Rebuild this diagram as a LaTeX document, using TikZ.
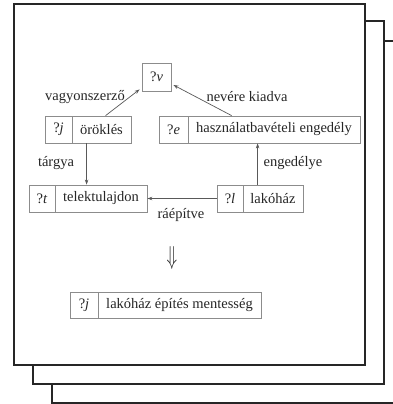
\documentclass[tikz,border=0pt]{standalone}
\usepackage{fontspec}
\setmainfont{Liberation Serif}
\usetikzlibrary{calc,arrows.meta}
\begin{document}
\begin{tikzpicture}[x=1pt,y=-1pt,
  frame/.style={line width=2.4pt,draw=black!85},
  cell/.style={draw=black!45,line width=0.8pt,inner sep=0pt,minimum height=27pt,font=\fontsize{14.5}{16}\selectfont,text=black!85},
  lbl/.style={inner sep=0pt,font=\fontsize{14.5}{16}\selectfont,text=black!85},
  conn/.style={draw=black!65,line width=0.7pt,-{Stealth[length=5pt,width=3.5pt]}}]
\useasboundingbox (0,0) rectangle (393,404);
% stacked frames
\draw[frame] (52,384) -- (52,403) -- (396,403);
\draw[frame] (384,41) -- (396,41);
\draw[frame] (33,365) -- (33,384) -- (384,384) -- (384,21) -- (365,21);
\draw[frame,fill=white] (14,4) rectangle (365,365);
% nodes
\node[cell,minimum width=29pt,minimum height=28pt] (v) at (156.5,77) {?\textit{v}};
\node[cell,minimum width=27pt] (jL) at (58.5,129.5) {?\textit{j}};
\node[cell,minimum width=59pt] (jR) at (101.5,129.5) {öröklés};
\node[cell,minimum width=29pt] (eL) at (173.5,129.5) {?\textit{e}};
\node[cell,minimum width=172pt] (eR) at (274,129.5) {használatbavételi engedély};
\node[cell,minimum width=26pt] (tL) at (42,198.5) {?\textit{t}};
\node[cell,minimum width=92pt] (tR) at (101,198.5) {telektulajdon};
\node[cell,minimum width=26pt] (lL) at (230,198.5) {?\textit{l}};
\node[cell,minimum width=60pt] (lR) at (273,198.5) {lakóház};
\node[cell,minimum width=28pt,minimum height=26pt] (kL) at (84,305) {?\textit{j}};
\node[cell,minimum width=163pt,minimum height=26pt] (kR) at (179.5,305) {lakóház építés mentesség};
% labels
\node[lbl] (l1) at (85,97) {vagyonszerző};
\node[lbl] (l2) at (247,97) {nevére kiadva};
\node[lbl] (l3) at (56,163) {tárgya};
\node[lbl] (l4) at (293,163) {engedélye};
\node[lbl] (l5) at (181,215) {ráépítve};
\node[inner sep=0pt,text=black!85] (dn) at (172,258) {\scalebox{1}[1.5]{\fontsize{17}{17}\selectfont$\Downarrow$}};
% connector end points
\coordinate (ja) at ($(jR.south west)+(15,0)$);
\coordinate (la) at ($(lR.north west)+(15,0)$);
% connectors
\draw[conn] ($(jR.north west)+(34,0)$) -- ($(v.south west)+(-2,-2)$);
\draw[conn] ($(eR.north west)+(44,0)$) -- ($(v.east)+(2,8)$);
\draw[conn] (ja) -- (ja |- tR.north);
\draw[conn] (la) -- (la |- eR.south);
\draw[conn] (lL.west) -- (tR.east);
\end{tikzpicture}
\end{document}
